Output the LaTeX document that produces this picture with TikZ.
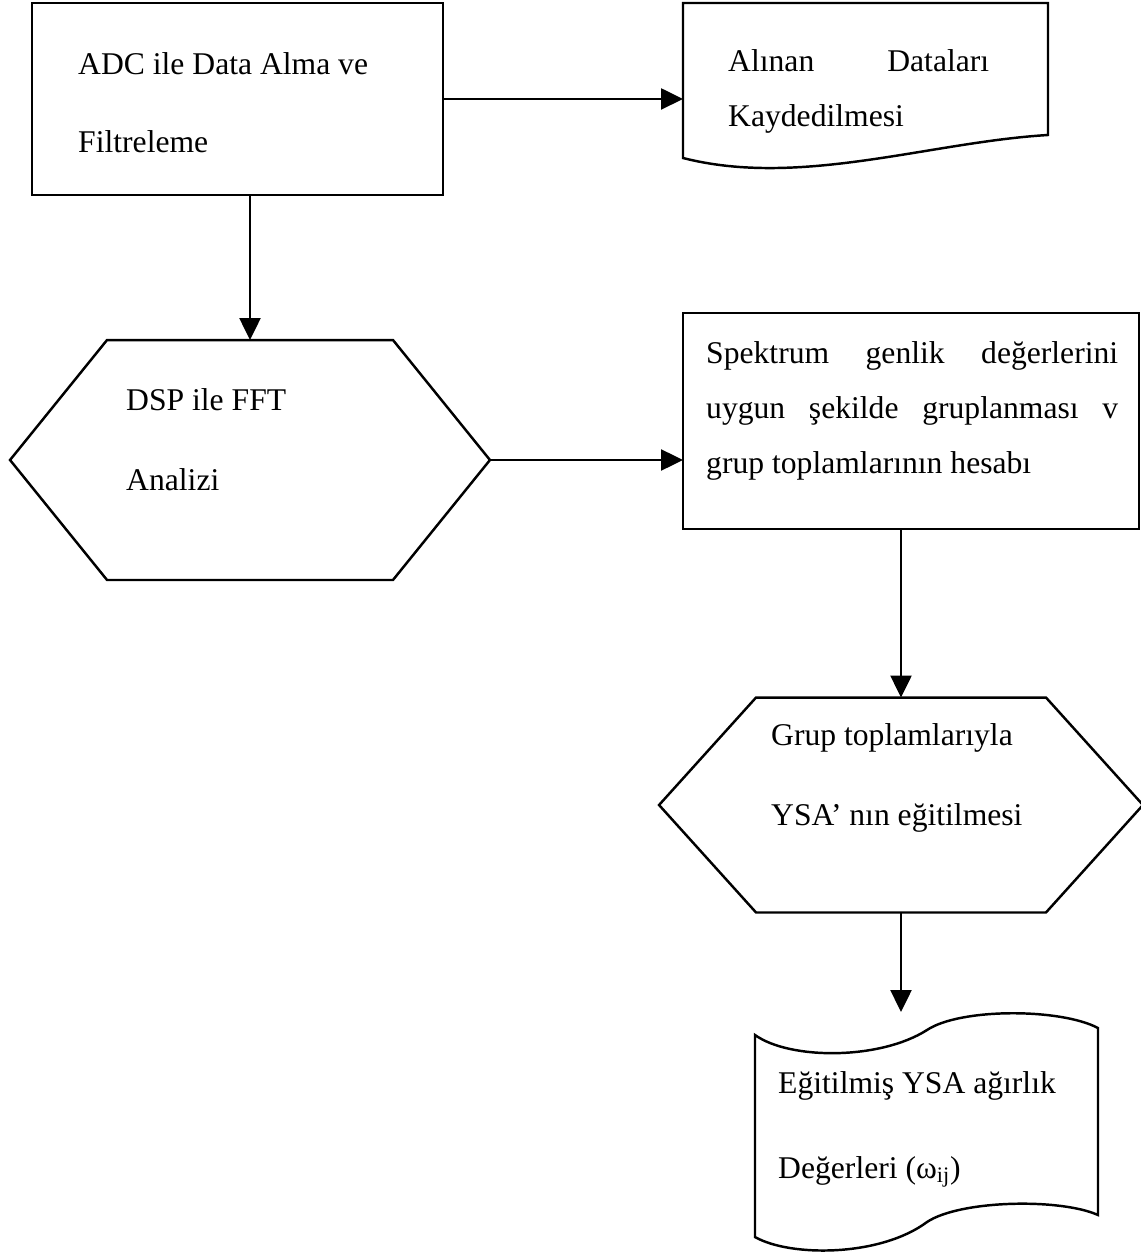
\documentclass[tikz,border=0pt]{standalone}
\usepackage{fontspec}
\setmainfont{Liberation Serif}
\usetikzlibrary{arrows.meta}

\begin{document}
\begin{tikzpicture}[x=0.02cm,y=-0.02cm,line width=1.4pt,
    shp/.style={rectangle,inner sep=0pt,outer sep=0pt},
    lbl/.style={anchor=base west,inner sep=0pt,font=\fontsize{18}{22}\selectfont},
    arr/.style={-{Triangle[length=0.44cm,width=0.42cm]}}]
    \useasboundingbox (0,0) rectangle (1141,1253);
    % blocks
    \node[shp,draw,anchor=north west,minimum width=8.22cm,minimum height=3.84cm] (adc) at (32,3) {};
    \node[shp,anchor=north west,minimum width=7.3cm,minimum height=3.1cm] (kayit) at (683,3) {};
    \node[shp,minimum width=9.6cm,minimum height=4.8cm] (dsp) at (250,460) {};
    \node[shp,draw,anchor=north west,minimum width=9.12cm,minimum height=4.32cm] (spek) at (683,313) {};
    \node[shp,minimum width=9.68cm,minimum height=4.3cm] (egit) at (901,805) {};
    \node[shp,anchor=north west,minimum width=6.86cm,minimum height=4.76cm] (sonuc) at (755,1012) {};
    % document and tape outlines
    \draw (683,158) -- (683,3) -- (1048,3) -- (1048,135) .. controls (930,142) and (800,188) .. (683,158) -- cycle;
    \draw (755,1035) .. controls (790,1060) and (880,1060) .. (927,1030)
        .. controls (960,1008) and (1060,1008) .. (1098,1028) -- (1098,1215)
        .. controls (1060,1198) and (960,1200) .. (927,1222)
        .. controls (880,1257) and (790,1257) .. (755,1237) -- cycle;
    % hexagons
    \foreach \n in {dsp,egit}
    \draw (\n.west) -- ([xshift=1.94cm]\n.north west) -- ([xshift=-1.94cm]\n.north east) -- (\n.east)
        -- ([xshift=-1.94cm]\n.south east) -- ([xshift=1.94cm]\n.south west) -- cycle;
    % arrows
    \draw[arr] (adc.east) -- (adc.east -| kayit.west);
    \draw[arr] (adc.south -| dsp.north) -- (dsp.north);
    \draw[arr] (dsp.east) -- (dsp.east -| spek.west);
    \draw[arr] (spek.south -| egit.north) -- (egit.north);
    \draw[arr] (egit.south) -- (egit.south |- sonuc.north);
    % texts
    \foreach \nm/\x/\y/\txt in {
        adcA/77/75/{ADC ile Data Alma ve},
        adcB/77/153/{Filtreleme},
        kayA/727/72/{\makebox[5.22cm][l]{Alınan\hfill Dataları}},
        kayB/727/127/{Kaydedilmesi},
        dspA/125/410/{DSP ile FFT},
        dspB/125/490/{Analizi},
        spA/705/363/{\makebox[8.24cm][l]{Spektrum\hfill genlik\hfill değerlerini}},
        spB/705/418/{\makebox[8.24cm][l]{uygun\hfill şekilde\hfill gruplanması\hfill v}},
        spC/705/473/{grup toplamlarının hesabı},
        egA/770/745/{Grup toplamlarıyla},
        egB/770/825/{YSA’ nın eğitilmesi},
        soA/777/1093/{Eğitilmiş YSA ağırlık},
        soB/777/1178/{Değerleri (ω\textsubscript{ij})}}
    \node[lbl] (\nm) at (\x,\y) {\txt};
\end{tikzpicture}
\end{document}
